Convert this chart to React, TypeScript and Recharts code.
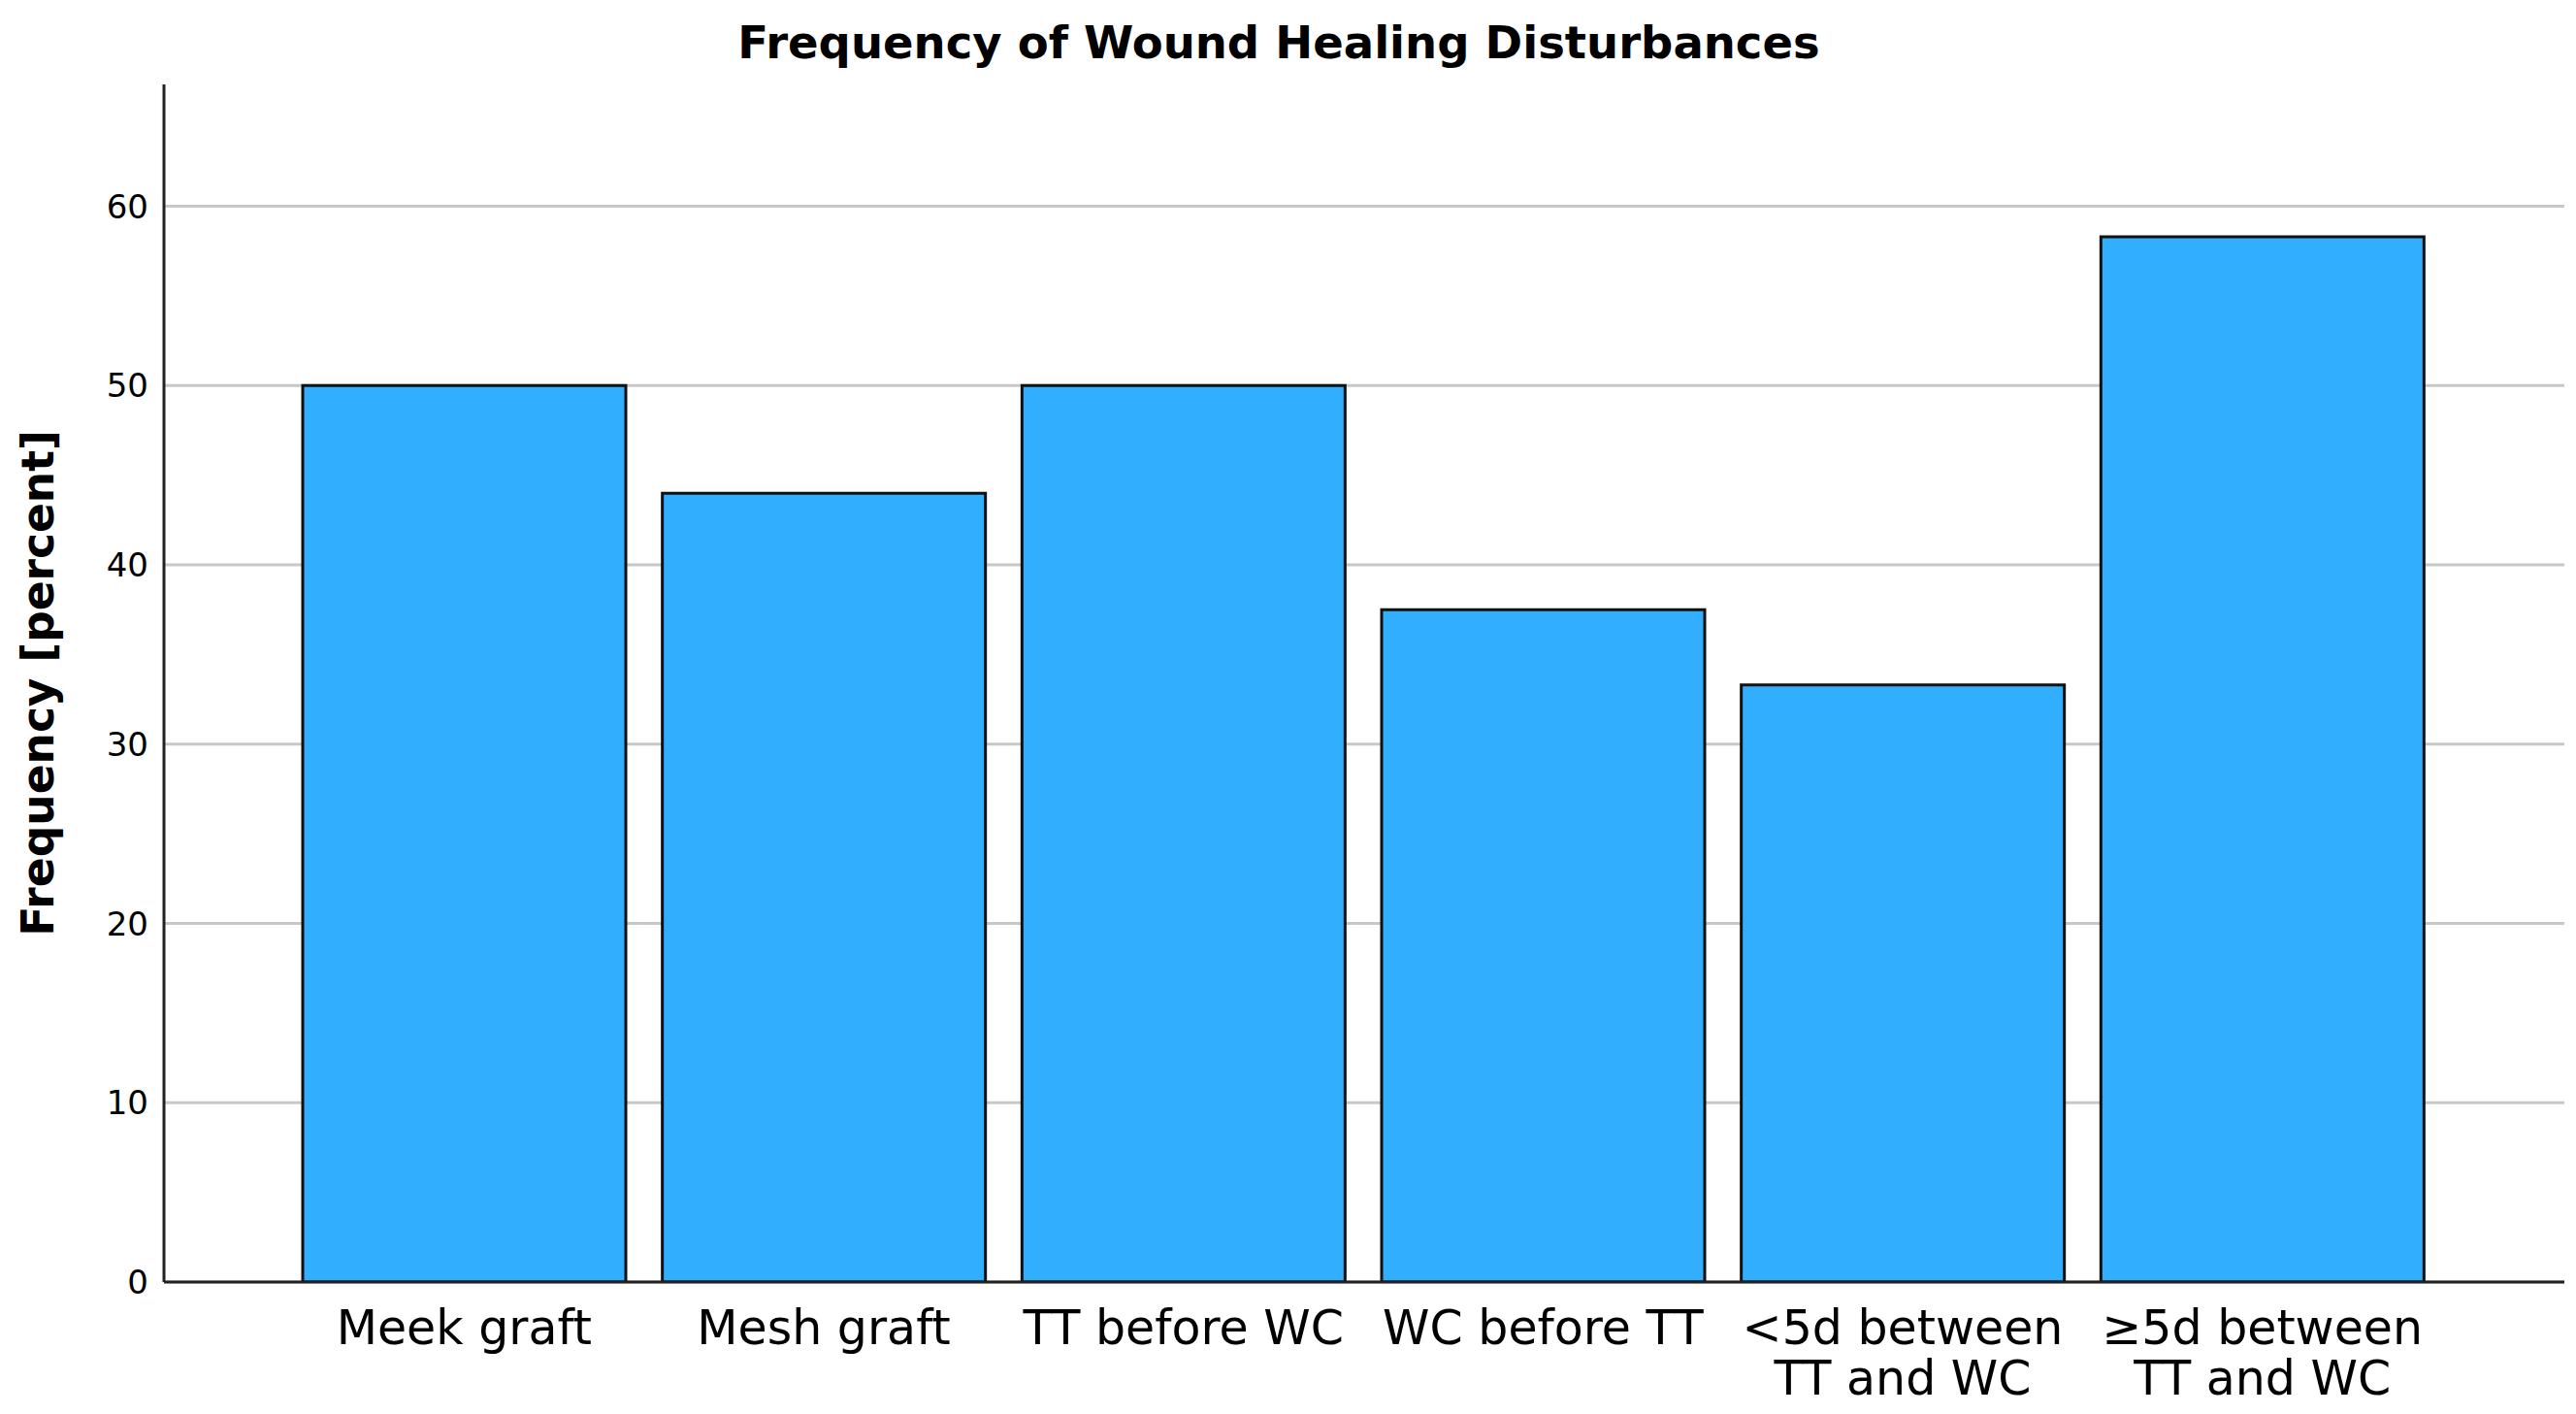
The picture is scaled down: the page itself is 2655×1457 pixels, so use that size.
import React from "react";
import { BarChart, Bar, XAxis, YAxis, CartesianGrid } from "recharts";

const categories = [
  "Meek graft",
  "Mesh graft",
  "TT before WC",
  "WC before TT",
  "<5d between\nTT and WC",
  "≥5d between\nTT and WC",
];
const frequencies = [50, 44, 50, 37.5, 33.3, 58.3];
const yTicks = [0, 10, 20, 30, 40, 50, 60];
const titleText = "Frequency of Wound Healing Disturbances";
const yAxisTitle = "Frequency [percent]";

const data = categories.map((c, i) => ({ category: c, value: frequencies[i] }));

const FONT = "'DejaVu Sans', sans-serif";

const XTick = (props: any) => {
  const { x, y, payload } = props;
  const lines = String(payload.value).split("\n");
  return (
    <text x={x} y={y + 64} textAnchor="middle" fontFamily={FONT} fontSize={49} fill="#000">
      {lines.map((l, i) => (
        <tspan key={i} x={x} dy={i === 0 ? 0 : 52}>
          {l}
        </tspan>
      ))}
    </text>
  );
};

const YLabel = (props: any) => {
  const vb = props.viewBox || {};
  const cy = (vb.y || 0) + (vb.height || 0) / 2;
  return (
    <text
      x={55}
      y={cy}
      transform={`rotate(-90, 55, ${cy})`}
      textAnchor="middle"
      fontFamily={FONT}
      fontWeight="bold"
      fontSize={45.5}
      fill="#000"
    >
      {yAxisTitle}
    </text>
  );
};

export default function App() {
  return (
    <div style={{ position: "absolute", left: 0, top: 0, width: 2655, height: 1457, background: "#fff" }}>
      <svg width={2655} height={90} style={{ position: "absolute", left: 0, top: 0 }}>
        <text x={1318} y={60} textAnchor="middle" fontFamily={FONT} fontWeight="bold" fontSize={46.5} fill="#000">
          {titleText}
        </text>
      </svg>
      <div style={{ position: "absolute", left: 0, top: 0 }}>
        <BarChart
          width={2655}
          height={1457}
          data={data}
          margin={{ top: 87, right: 12, bottom: 0, left: 0 }}
          barCategoryGap={19}
        >
          <CartesianGrid vertical={false} horizontalValues={yTicks} stroke="#c8c8c8" strokeWidth={3} />
          <XAxis
            dataKey="category"
            interval={0}
            height={136}
            padding={{ left: 124, right: 126 }}
            tickLine={false}
            tickSize={0}
            tickMargin={0}
            axisLine={{ stroke: "#222", strokeWidth: 3 }}
            tick={<XTick />}
          />
          <YAxis
            width={169}
            domain={[0, 66.8]}
            ticks={yTicks}
            allowDataOverflow
            tickLine={false}
            tickSize={0}
            tickMargin={16}
            axisLine={{ stroke: "#222", strokeWidth: 3 }}
            tick={{ fontSize: 34, fill: "#000", fontFamily: FONT }}
            label={<YLabel />}
          />
          <Bar dataKey="value" fill="#32AEFF" stroke="#111" strokeWidth={3} isAnimationActive={false} />
        </BarChart>
      </div>
    </div>
  );
}
